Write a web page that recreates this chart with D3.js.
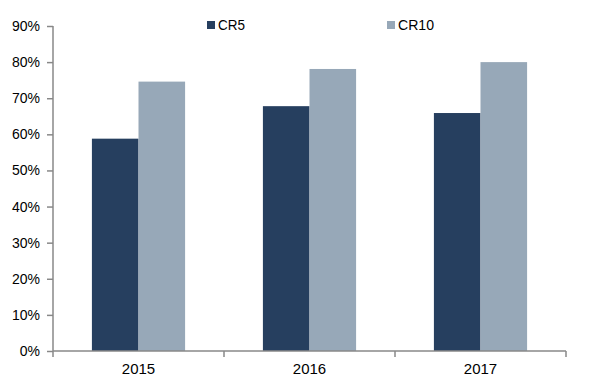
<!DOCTYPE html>
<html>
<head>
<meta charset="utf-8">
<script src="https://cdn.jsdelivr.net/npm/d3@7"></script>
<style>
  body { margin: 0; background: #fff; }
  svg text { font-family: "Liberation Sans", Arial, sans-serif; fill: #000; }
</style>
</head>
<body>
<svg id="chart" width="600" height="387"></svg>
<script>
var years = ["2015", "2016", "2017"];
var seriesNames = ["CR5", "CR10"];
var cr5 = [0.588, 0.678, 0.659];
var cr10 = [0.746, 0.781, 0.800];
var yTicks = [0, 0.1, 0.2, 0.3, 0.4, 0.5, 0.6, 0.7, 0.8, 0.9];
var colors = ["#263f5f", "#97a8b8"];

var svg = d3.select("#chart");
var plotLeft = 53, plotRight = 566, plotTop = 26, plotBottom = 351;

var x = d3.scaleBand().domain(years).range([plotLeft, plotRight]).paddingInner(0).paddingOuter(0);
var xSub = d3.scaleBand().domain(seriesNames).range([0, x.bandwidth()]).paddingInner(0).paddingOuter(0.835);
var y = d3.scaleLinear().domain([0, 0.9]).range([plotBottom, plotTop]);

var rows = years.map(function(yr, i) { return { year: yr, values: [cr5[i], cr10[i]] }; });

// bars
var grp = svg.append("g").selectAll("g")
  .data(rows)
  .enter().append("g")
  .attr("transform", function(d) { return "translate(" + x(d.year) + ",0)"; });

grp.selectAll("rect")
  .data(function(d) { return d.values.map(function(v, j) { return { name: seriesNames[j], v: v, j: j }; }); })
  .enter().append("rect")
  .attr("x", function(d) { return xSub(d.name); })
  .attr("width", xSub.bandwidth())
  .attr("y", function(d) { return y(d.v); })
  .attr("height", function(d) { return plotBottom - y(d.v); })
  .attr("fill", function(d) { return colors[d.j]; });

// y axis
var yAxis = d3.axisLeft(y).tickValues(yTicks).tickFormat(d3.format(".0%")).tickSize(6).tickPadding(7);
var yg = svg.append("g").attr("transform", "translate(" + plotLeft + ",0)").call(yAxis);
yg.select(".domain").attr("stroke", "#888").attr("stroke-width", 1.5).attr("d", "M0," + plotTop + "V" + plotBottom);
yg.selectAll(".tick line").attr("stroke", "#888").attr("stroke-width", 1.5);
yg.selectAll(".tick text").attr("font-size", "14px").attr("fill", "#000");

// x axis
var xAxis = d3.axisBottom(x).tickSize(0).tickPadding(12);
var xg = svg.append("g").attr("transform", "translate(0," + plotBottom + ")").call(xAxis);
xg.select(".domain").attr("stroke", "#888").attr("stroke-width", 1.5).attr("d", "M" + plotLeft + ",0H" + plotRight);
xg.selectAll(".tick text").attr("font-size", "15px").attr("fill", "#000");
var bounds = years.map(function(yr) { return x(yr); }).concat([plotRight]);
xg.selectAll(".cat-tick").data(bounds).enter().append("line")
  .attr("x1", function(d) { return d; }).attr("x2", function(d) { return d; })
  .attr("y1", 0).attr("y2", 6)
  .attr("stroke", "#888").attr("stroke-width", 1.5);

// legend
var legendX = [207, 387];
var lg = svg.append("g").selectAll("g").data(seriesNames).enter().append("g")
  .attr("transform", function(d, i) { return "translate(" + legendX[i] + ",21)"; });
lg.append("rect").attr("width", 8).attr("height", 8).attr("fill", function(d, i) { return colors[i]; });
lg.append("text").attr("x", 11).attr("y", 4).attr("dy", "0.36em")
  .attr("font-size", "15px")
  .attr("textLength", function(d) { return d === "CR5" ? 27 : 36; })
  .attr("lengthAdjust", "spacingAndGlyphs")
  .text(function(d) { return d; });
</script>
</body>
</html>
